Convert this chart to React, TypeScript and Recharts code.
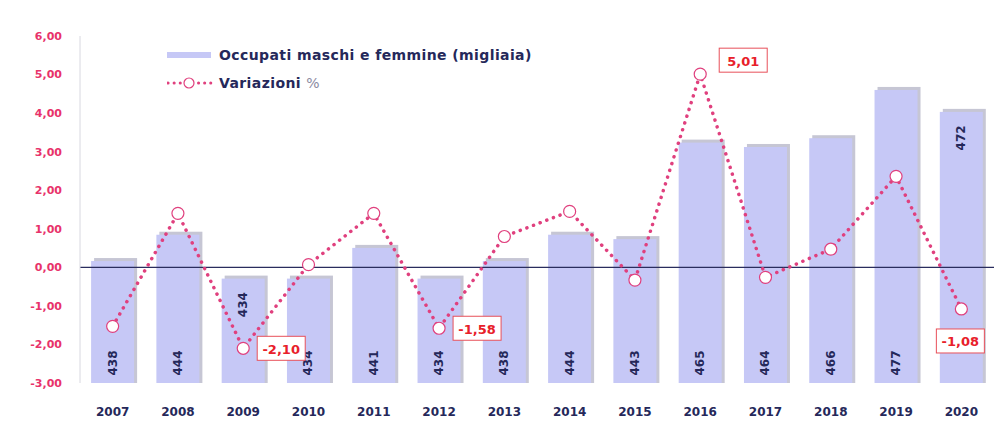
import { ComposedChart, Bar, Line, XAxis, YAxis, ReferenceLine, LabelList } from "recharts";

const years = ["2007", "2008", "2009", "2010", "2011", "2012", "2013", "2014", "2015", "2016", "2017", "2018", "2019", "2020"];
const occupati = [438, 444, 434, 434, 441, 434, 438, 444, 443, 465, 464, 466, 477, 472];
const variazioni = [-1.53, 1.4, -2.1, 0.07, 1.4, -1.58, 0.8, 1.45, -0.33, 5.01, -0.26, 0.47, 2.36, -1.08];
const yTicks = [-3, -2, -1, 0, 1, 2, 3, 4, 5, 6];

// which points get a boxed value label, and where it sits
const boxedLabels: Record<string, string> = { "2009": "right", "2012": "right", "2016": "upRight", "2020": "below" };
// bar labels drawn at the top of the bar instead of the bottom
const topBarLabels = ["2009", "2020"];

const data = years.map((y, i) => ({ year: y, occ: occupati[i], varp: variazioni[i] }));

const fmt = (v: number) => v.toFixed(2).replace(".", ",");
const PINK = "#e0407e";
const NAVY = "#25285a";
const FONT = "'DejaVu Sans', sans-serif";

const BarShape = (p: any) => {
  const { x, y, width, height } = p;
  return (
    <g>
      <rect x={x + 3} y={y - 3} width={width} height={height + 3} fill="#a0a0b8" opacity={0.6} />
      <rect x={x} y={y} width={width} height={height} fill="#c6c8f6" />
    </g>
  );
};

const BarLabel = (p: any) => {
  const { x, y, width, height, index } = p;
  const atTop = topBarLabels.includes(years[index]);
  const cx = x + width / 2;
  const cy = atTop ? y + 26 : y + height - 20;
  return (
    <text x={cx} y={cy} transform={`rotate(-90 ${cx} ${cy})`} textAnchor="middle" dominantBaseline="central"
      fill={NAVY} fontSize={12} fontWeight="bold" fontFamily={FONT}>
      {occupati[index]}
    </text>
  );
};

const PointLabel = (p: any) => {
  const { x, y, index } = p;
  const pos = boxedLabels[years[index]];
  if (!pos) return null;
  const w = 48, h = 24;
  let bx = x + 14, by = y - h / 2;
  if (pos === "upRight") { bx = x + 19; by = y - 26; }
  if (pos === "below") { bx = x - 25; by = y + 20; }
  return (
    <g>
      <rect x={bx} y={by} width={w} height={h} fill="#fff" stroke="#e8505a" strokeWidth={1} />
      <text x={bx + w / 2} y={by + h / 2 + 1} textAnchor="middle" dominantBaseline="central"
        fill="#e8202a" fontSize={13} fontWeight="bold" fontFamily={FONT}>
        {fmt(variazioni[index])}
      </text>
    </g>
  );
};

const LegendBox = () => (
  <div style={{ position: "absolute", left: 167, top: 41, fontFamily: FONT, fontWeight: "bold", fontSize: 14, letterSpacing: 0.4, color: NAVY }}>
    <div style={{ display: "flex", alignItems: "center", height: 28 }}>
      <svg width={48} height={10}><rect x={0} y={2} width={44} height={6} fill="#c6c8f6" /></svg>
      <span style={{ marginLeft: 4 }}>Occupati maschi e femmine (migliaia)</span>
    </div>
    <div style={{ display: "flex", alignItems: "center", height: 28 }}>
      <svg width={48} height={14}>
        <line x1={1} y1={7} x2={44} y2={7} stroke={PINK} strokeWidth={3} strokeDasharray="0.1 6" strokeLinecap="round" />
        <circle cx={22} cy={7} r={5} fill="#fff" stroke={PINK} strokeWidth={1.2} />
      </svg>
      <span style={{ marginLeft: 4 }}>Variazioni <span style={{ color: "#8a8aa0", fontWeight: "normal" }}>%</span></span>
    </div>
  </div>
);

export default function App() {
  return (
    <div style={{ position: "absolute", left: 0, top: 0, width: 994, height: 426, background: "#fff" }}>
      <ComposedChart width={994} height={426} data={data} margin={{ top: 36, right: 0, bottom: 13, left: 0 }} barCategoryGap="17%">
        <XAxis dataKey="year" axisLine={false} tickLine={false} tickMargin={18}
          tick={{ fill: NAVY, fontSize: 12, fontWeight: "bold", fontFamily: FONT }} />
        <YAxis yAxisId="left" domain={[-3, 6]} ticks={yTicks} width={80} tickSize={0} tickMargin={18}
          axisLine={{ stroke: "#d8d8e0" }} tickFormatter={fmt}
          tick={{ fill: "#e8336b", fontSize: 11, fontWeight: "bold", fontFamily: FONT }} />
        <YAxis yAxisId="right" orientation="right" hide domain={[410.2, 489.3]} />
        <Bar yAxisId="right" dataKey="occ" shape={<BarShape />} isAnimationActive={false}>
          <LabelList dataKey="occ" content={<BarLabel />} />
        </Bar>
        <ReferenceLine yAxisId="left" y={0} stroke="#2a2d5e" strokeWidth={1.2} />
        <Line yAxisId="left" dataKey="varp" type="linear" stroke={PINK} strokeWidth={3.5}
          strokeDasharray="0.1 7" strokeLinecap="round" isAnimationActive={false}
          dot={{ r: 6, fill: "#fff", stroke: PINK, strokeWidth: 1.2, strokeDasharray: "" }}>
          <LabelList dataKey="varp" content={<PointLabel />} />
        </Line>
      </ComposedChart>
      <LegendBox />
    </div>
  );
}
